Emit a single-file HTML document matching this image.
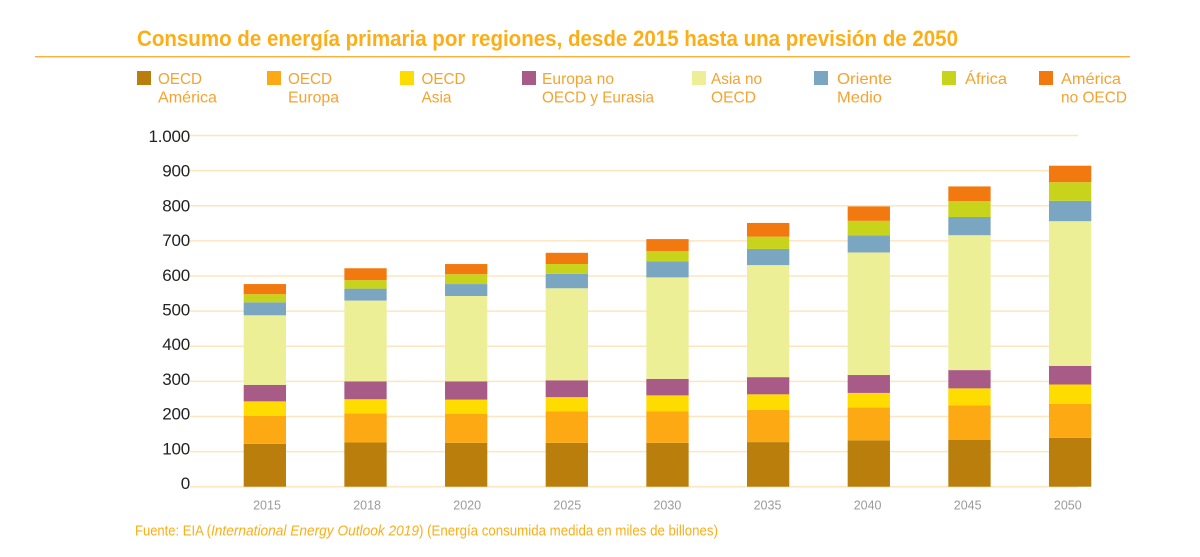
<!DOCTYPE html>
<html lang="es">
<head>
<meta charset="utf-8">
<title>Consumo de energía primaria por regiones</title>
<style>
  html, body { margin: 0; padding: 0; background: #fff; }
  svg { display: block; font-family: "Liberation Sans", sans-serif; }
  .lg { font-size: 16px; fill: #f5a330; }
  .yt { font-size: 17px; fill: #222; text-anchor: end; letter-spacing: -0.2px; }
  .xt { font-size: 12.5px; fill: #9b9b9b; text-anchor: middle; }
</style>
</head>
<body>
<svg id="chart" width="1200" height="557" viewBox="0 0 1200 557" xmlns="http://www.w3.org/2000/svg">
  <text x="137" y="46" font-size="22.5" font-weight="bold" fill="#fbae17" textLength="821" lengthAdjust="spacingAndGlyphs">Consumo de energía primaria por regiones, desde 2015 hasta una previsión de 2050</text>
  <rect x="35" y="56" width="1095" height="1.4" fill="#fbb03b"/>

  <g>
    <g>
      <rect x="137" y="71" width="14" height="14" fill="#b97e0c"/>
      <text class="lg" x="158" y="84" textLength="44" lengthAdjust="spacingAndGlyphs">OECD</text>
      <text class="lg" x="158" y="102.5" textLength="59" lengthAdjust="spacingAndGlyphs">América</text>
    </g>
    <g>
      <rect x="267" y="71" width="14" height="14" fill="#fca913"/>
      <text class="lg" x="288" y="84" textLength="44" lengthAdjust="spacingAndGlyphs">OECD</text>
      <text class="lg" x="288" y="102.5" textLength="51" lengthAdjust="spacingAndGlyphs">Europa</text>
    </g>
    <g>
      <rect x="400" y="71" width="14" height="14" fill="#ffdc00"/>
      <text class="lg" x="421.5" y="84" textLength="44" lengthAdjust="spacingAndGlyphs">OECD</text>
      <text class="lg" x="421.5" y="102.5" textLength="30" lengthAdjust="spacingAndGlyphs">Asia</text>
    </g>
    <g>
      <rect x="522" y="71" width="14" height="14" fill="#a95b88"/>
      <text class="lg" x="542" y="84" textLength="72" lengthAdjust="spacingAndGlyphs">Europa no</text>
      <text class="lg" x="542" y="102.5" textLength="112" lengthAdjust="spacingAndGlyphs">OECD y Eurasia</text>
    </g>
    <g>
      <rect x="692" y="71" width="14" height="14" fill="#edef96"/>
      <text class="lg" x="711" y="84" textLength="51" lengthAdjust="spacingAndGlyphs">Asia no</text>
      <text class="lg" x="711" y="102.5" textLength="45" lengthAdjust="spacingAndGlyphs">OECD</text>
    </g>
    <g>
      <rect x="814" y="71" width="14" height="14" fill="#7ba6c1"/>
      <text class="lg" x="837" y="84" textLength="55" lengthAdjust="spacingAndGlyphs">Oriente</text>
      <text class="lg" x="837" y="102.5" textLength="45" lengthAdjust="spacingAndGlyphs">Medio</text>
    </g>
    <g>
      <rect x="942" y="71" width="14" height="14" fill="#c8d41b"/>
      <text class="lg" x="965" y="84" textLength="42" lengthAdjust="spacingAndGlyphs">África</text>
    </g>
    <g>
      <rect x="1039" y="71" width="14" height="14" fill="#f2790f"/>
      <text class="lg" x="1061" y="84" textLength="60" lengthAdjust="spacingAndGlyphs">América</text>
      <text class="lg" x="1061" y="102.5" textLength="66" lengthAdjust="spacingAndGlyphs">no OECD</text>
    </g>
  </g>

  <g id="grid"></g>
  <g id="yticks"></g>
  <g id="bars"></g>
  <g id="xticks"></g>

  <text y="535.5" font-size="14.5" fill="#fbae17"><tspan x="135" textLength="76" lengthAdjust="spacingAndGlyphs">Fuente: EIA (</tspan><tspan x="211" font-style="italic" textLength="208" lengthAdjust="spacingAndGlyphs">International Energy Outlook 2019</tspan><tspan x="419" textLength="299" lengthAdjust="spacingAndGlyphs">) (Energía consumida medida en miles de billones)</tspan></text>
</svg>

<script>
const years = ['2015', '2018', '2020', '2025', '2030', '2035', '2040', '2045', '2050'];
const oecdAmerica = [122, 126, 125, 125, 125, 127, 132, 133, 139];
const oecdEuropa = [80, 83, 83, 90, 90, 92, 94, 99, 97];
const oecdAsia = [41, 40, 40, 40, 45, 44, 41, 48, 55];
const europaNoOecd = [47, 51, 52, 48, 47, 49, 51, 52, 53];
const asiaNoOecd = [198, 230, 243, 262, 289, 319, 349, 384, 412];
const orienteMedio = [37, 34, 34, 41, 46, 46, 49, 52, 58];
const africa = [23, 24, 28, 28, 29, 35, 41, 45, 53];
const americaNoOecd = [29, 34, 29, 32, 34, 39, 41, 42, 47];
const yTicks = [0, 100, 200, 300, 400, 500, 600, 700, 800, 900, 1000];
const yTickLabels = ['0', '100', '200', '300', '400', '500', '600', '700', '800', '900', '1.000'];

const seriesList = [oecdAmerica, oecdEuropa, oecdAsia, europaNoOecd, asiaNoOecd, orienteMedio, africa, americaNoOecd];
const seriesKeys = ['oecd-america', 'oecd-europa', 'oecd-asia', 'europa-no-oecd', 'asia-no-oecd', 'oriente-medio', 'africa', 'america-no-oecd'];
const seriesColors = ['#b97e0c', '#fca913', '#ffdc00', '#a95b88', '#edef96', '#7ba6c1', '#c8d41b', '#f2790f'];

const NS = 'http://www.w3.org/2000/svg';
const yZero = 486.7;
const pxPerUnit = 0.3512;
const labelZero = 483;
const labelPxPerUnit = 0.347;
const firstBarLeft = 243.7;
const barStep = 100.66;
const barWidth = 42.3;
const firstYearCentre = 267;
const yearStep = 100.1;

function yScale(v) { return yZero - v * pxPerUnit; }
function yLabelScale(v) { return labelZero - v * labelPxPerUnit; }
function xScale(i) { return firstBarLeft + i * barStep; }
function xLabelScale(i) { return firstYearCentre + i * yearStep; }

const gridGroup = document.getElementById('grid');
const yGroup = document.getElementById('yticks');
yTicks.forEach(function (t, i) {
  const line = document.createElementNS(NS, 'line');
  
  
  line.setAttribute('x1', 190);
  line.setAttribute('x2', 1078);
  line.setAttribute('y1', yScale(t));
  line.setAttribute('y2', yScale(t));
  line.setAttribute('stroke', '#fde6bf');
  line.setAttribute('stroke-width', 1.5);
  gridGroup.appendChild(line);

  const label = document.createElementNS(NS, 'text');
  
  
  label.setAttribute('class', 'yt');
  label.setAttribute('x', 190);
  label.setAttribute('y', yLabelScale(t) + 6);
  label.textContent = yTickLabels[i];
  yGroup.appendChild(label);
});

const barGroup = document.getElementById('bars');
const xGroup = document.getElementById('xticks');
years.forEach(function (year, i) {
  let total = 0;
  seriesList.forEach(function (values, s) {
    const rect = document.createElementNS(NS, 'rect');
    
    
    rect.setAttribute('x', xScale(i));
    rect.setAttribute('y', yScale(total + values[i]));
    rect.setAttribute('width', barWidth);
    rect.setAttribute('height', values[i] * pxPerUnit);
    rect.setAttribute('fill', seriesColors[s]);
    barGroup.appendChild(rect);
    total += values[i];
  });

  const label = document.createElementNS(NS, 'text');
  
  
  label.setAttribute('class', 'xt');
  label.setAttribute('x', xLabelScale(i));
  label.setAttribute('y', 509.5);
  label.textContent = year;
  xGroup.appendChild(label);
});
</script>
</body>
</html>
